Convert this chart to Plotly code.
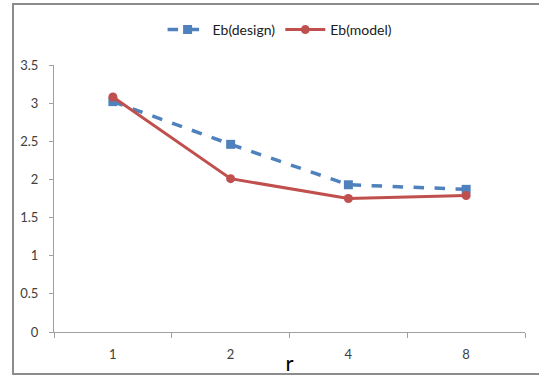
import plotly.graph_objects as go

r_labels = ["1", "2", "4", "8"]
eb_design = [3.02, 2.46, 1.93, 1.87]
eb_model = [3.08, 2.01, 1.75, 1.79]

font_family = "Lato, Open Sans, sans-serif"

fig = go.Figure()
fig.add_trace(go.Scatter(
    x=r_labels, y=eb_design, name="Eb(design)", mode="lines+markers",
    line=dict(color="#4F81BD", width=3.5, dash="dash"),
    marker=dict(symbol="square", size=9, color="#4F81BD"),
))
fig.add_trace(go.Scatter(
    x=r_labels, y=eb_model, name="Eb(model)", mode="lines+markers",
    line=dict(color="#C0504D", width=3),
    marker=dict(symbol="circle", size=9, color="#C0504D"),
))

fig.update_layout(
    width=539, height=376,
    margin=dict(l=54, r=14, t=65, b=44, autoexpand=False),
    paper_bgcolor="white", plot_bgcolor="white",
    font=dict(family=font_family, size=12, color="#404040"),
    showlegend=True,
    legend=dict(orientation="h", x=0.48, y=1.131, xanchor="center", yanchor="middle",
                font=dict(size=14, color="#202020"), itemwidth=40,
                bgcolor="rgba(0,0,0,0)"),
    xaxis=dict(
        type="category", range=[-0.5, 3.5],
        showline=True, linecolor="#A0A0A0", linewidth=1,
        ticks="outside", tickson="boundaries", ticklen=5, tickcolor="#A0A0A0",
        showgrid=False, zeroline=False, automargin=False,
        ticklabelstandoff=10,
        tickfont=dict(size=13, color="#404040"),
        title=dict(text="r", font=dict(size=22, color="#000000"), standoff=0),
    ),
    yaxis=dict(
        range=[0, 3.5], dtick=0.5,
        showline=True, linecolor="#A0A0A0", linewidth=1,
        ticks="outside", ticklen=4, tickcolor="#A0A0A0",
        showgrid=False, zeroline=False, automargin=False,
        ticklabelstandoff=8,
        tickfont=dict(size=13, color="#404040"),
    ),
    shapes=[dict(
        type="rect", xref="paper", yref="paper",
        x0=-0.087, x1=1.04, y0=-0.157, y1=1.228,
        line=dict(color="#8C8C8C", width=2), layer="below",
    )],
)

fig.write_html("out.html")
